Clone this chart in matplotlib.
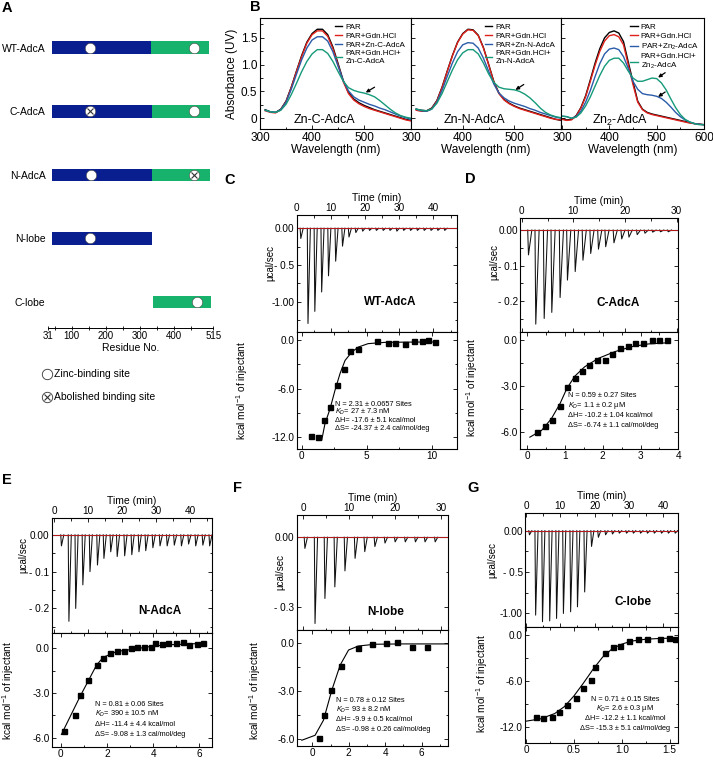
import matplotlib
matplotlib.use("Agg")
import matplotlib.pyplot as plt

plt.rcParams['font.family'] = ['Liberation Sans', 'DejaVu Sans']
plt.rcParams['mathtext.fontset'] = 'custom'
plt.rcParams['mathtext.rm'] = 'Liberation Sans'
plt.rcParams['mathtext.it'] = 'Liberation Sans:italic'
plt.rcParams['axes.linewidth'] = 0.8

W, H = 713, 764

# ---------------- Panel A data ----------------
constructs = ['WT-AdcA', 'C-AdcA', 'N-AdcA', 'N-lobe', 'C-lobe']
nlobe_start = [42, 43, 43, 42, None]
nlobe_end = [332, 334, 334, 334, None]
clobe_start = [332, 334, 334, None, 339]
clobe_end = [501, 504, 504, None, 508]
site_pos = [[153, 459], [152, 459], [155, 459], [153], [467]]
site_ok = [[True, True], [False, True], [True, False], [True], [True]]
residue_ticks = [31, 100, 200, 300, 400, 515]

# ---------------- Panel B data ----------------
wl = [310, 320, 330, 340, 350, 360, 370, 380, 390, 400, 410, 420, 430, 440, 450,
      460, 470, 480, 490, 500, 510, 520, 530, 540, 550, 560, 570, 580, 590]
wl3 = [300] + wl + [600]
c_par = [0.16, 0.12, 0.11, 0.17, 0.32, 0.58, 0.88, 1.17, 1.42, 1.58, 1.66, 1.66, 1.56, 1.33, 1.02,
         0.70, 0.48, 0.36, 0.29, 0.24, 0.20, 0.16, 0.13, 0.10, 0.07, 0.04, 0.01, -0.02, -0.04]
c_gdn = [0.14, 0.11, 0.10, 0.16, 0.31, 0.57, 0.87, 1.15, 1.40, 1.56, 1.63, 1.63, 1.53, 1.30, 0.99,
         0.68, 0.46, 0.34, 0.27, 0.22, 0.18, 0.15, 0.12, 0.09, 0.06, 0.03, 0.00, -0.03, -0.05]
c_zn = [0.15, 0.12, 0.11, 0.16, 0.30, 0.54, 0.82, 1.09, 1.31, 1.46, 1.52, 1.52, 1.44, 1.24, 0.97,
        0.70, 0.51, 0.40, 0.34, 0.30, 0.26, 0.23, 0.19, 0.16, 0.12, 0.08, 0.04, 0.01, -0.02]
c_gdnzn = [0.15, 0.12, 0.11, 0.15, 0.26, 0.44, 0.65, 0.87, 1.06, 1.20, 1.28, 1.28, 1.21, 1.06, 0.87,
           0.69, 0.57, 0.52, 0.49, 0.47, 0.44, 0.40, 0.33, 0.25, 0.17, 0.10, 0.05, 0.02, 0.00]

n_par = [0.17, 0.15, 0.14, 0.19, 0.33, 0.58, 0.88, 1.17, 1.42, 1.58, 1.66, 1.65, 1.55, 1.32, 1.01,
         0.69, 0.47, 0.35, 0.28, 0.23, 0.19, 0.16, 0.13, 0.10, 0.07, 0.04, 0.01, -0.02, -0.04]
n_gdn = [0.15, 0.13, 0.13, 0.18, 0.32, 0.57, 0.87, 1.16, 1.41, 1.57, 1.65, 1.64, 1.54, 1.31, 1.00,
         0.68, 0.46, 0.34, 0.27, 0.22, 0.18, 0.15, 0.12, 0.09, 0.06, 0.03, 0.00, -0.02, -0.03]
n_zn = [0.17, 0.14, 0.13, 0.17, 0.30, 0.52, 0.78, 1.03, 1.24, 1.37, 1.41, 1.40, 1.31, 1.12, 0.88,
        0.64, 0.47, 0.38, 0.32, 0.28, 0.25, 0.22, 0.18, 0.15, 0.11, 0.08, 0.05, 0.02, 0.00]
n_gdnzn = [0.17, 0.15, 0.14, 0.17, 0.28, 0.46, 0.68, 0.90, 1.09, 1.22, 1.28, 1.28, 1.20, 1.03, 0.83,
           0.67, 0.58, 0.55, 0.54, 0.53, 0.50, 0.45, 0.38, 0.29, 0.19, 0.11, 0.06, 0.03, 0.01]

z_par = [-0.01, -0.03, -0.02, 0.05, 0.20, 0.42, 0.72, 1.03, 1.30, 1.50, 1.60, 1.63, 1.59, 1.43, 1.05,
         0.68, 0.32, 0.17, 0.11, 0.08, 0.06, 0.04, 0.02, 0.00, -0.02, -0.04, -0.06, -0.08, -0.10, -0.11, -0.12]
z_gdn = [-0.02, -0.04, -0.03, 0.04, 0.19, 0.40, 0.69, 0.99, 1.25, 1.44, 1.54, 1.56, 1.52, 1.37, 1.00,
         0.63, 0.30, 0.16, 0.10, 0.07, 0.05, 0.03, 0.01, -0.01, -0.03, -0.05, -0.07, -0.09, -0.10, -0.11, -0.12]
z_zn = [0.04, 0.03, 0.00, 0.03, 0.13, 0.30, 0.52, 0.78, 1.02, 1.20, 1.29, 1.31, 1.28, 1.15, 0.93,
        0.69, 0.54, 0.46, 0.44, 0.43, 0.41, 0.37, 0.30, 0.21, 0.11, 0.03, -0.03, -0.07, -0.10, -0.11, -0.12]
z_gdnzn = [0.04, 0.03, 0.00, 0.02, 0.10, 0.23, 0.40, 0.60, 0.80, 0.97, 1.08, 1.12, 1.12, 1.03, 0.88,
           0.75, 0.69, 0.69, 0.72, 0.75, 0.74, 0.66, 0.53, 0.36, 0.20, 0.07, -0.02, -0.07, -0.10, -0.12, -0.12]

# ---------------- ITC data ----------------
C_inj_t = [1.0, 3.1, 5.1, 7.1, 9.1, 11.2, 13.2, 15.1, 17.1, 19.1, 21.1, 23.1, 25.1, 27.1, 29.1,
           31.1, 33.1, 35.1, 37.1, 39.1, 41.1, 43.1]
C_inj_h = [-0.14, -1.30, -1.135, -0.87, -0.65, -0.45, -0.245, -0.12, -0.06, -0.04, -0.03, -0.03,
           -0.03, -0.03, -0.04, -0.03, -0.03, -0.03, -0.03, -0.03, -0.03, -0.03]
C_x = [0.72, 1.28, 1.74, 2.18, 2.69, 3.23, 3.72, 4.3, 5.8, 6.6, 7.2, 7.95, 8.6, 9.2, 9.7, 10.25]
C_y = [-11.9, -12.0, -9.9, -8.3, -5.5, -3.6, -1.3, -1.1, -0.1, -0.3, -0.3, -0.4, -0.1, -0.1, 0.1, -0.2]
C_fx = [1.54, 1.79, 2.18, 2.56, 2.95, 3.33, 3.85, 4.36, 5.1, 6.4, 8.0, 10.4]
C_fy = [-12.4, -10.35, -8.5, -6.2, -4.1, -2.5, -1.45, -0.83, -0.41, -0.25, -0.22, -0.2]

D_inj_t = [1.16, 2.57, 4.2, 5.67, 7.28, 8.7, 10.2, 11.7, 13.2, 14.7, 16.1, 17.7, 19.2, 20.6, 22.2,
           23.7, 25.2, 26.7, 28.2]
D_inj_h = [-0.07, -0.265, -0.249, -0.232, -0.19, -0.141, -0.117, -0.085, -0.066, -0.054, -0.047,
           -0.036, -0.025, -0.02, -0.013, -0.009, -0.006, -0.005, -0.005]
D_x = [0.27, 0.47, 0.66, 0.87, 1.06, 1.26, 1.44, 1.64, 1.85, 2.06, 2.25, 2.46, 2.66, 2.85, 3.07, 3.3, 3.5, 3.69]
D_y = [-6.0, -5.63, -5.19, -4.32, -3.05, -2.46, -2.03, -1.64, -1.33, -1.31, -0.94, -0.55, -0.39, -0.17,
       -0.22, 0.0, 0.0, 0.0]
D_fx = [0.07, 0.38, 0.64, 0.87, 1.05, 1.26, 1.52, 1.88, 2.32, 2.76, 3.2, 3.73]
D_fy = [-6.33, -5.89, -5.13, -4.14, -3.16, -2.36, -1.75, -1.2, -0.76, -0.44, -0.26, -0.18]

E_inj_t = [1.9, 4.1, 6.1, 8.2, 10.3, 12.5, 14.4, 16.4, 18.3, 20.5, 22.6, 24.7, 26.7, 28.8, 30.9, 33.0,
           35.1, 37.2, 39.3, 41.4, 43.5, 45.5]
E_inj_h = [-0.03, -0.235, -0.2, -0.136, -0.10, -0.082, -0.064, -0.046, -0.059, -0.057, -0.054, -0.046,
           -0.043, -0.035, -0.03, -0.03, -0.028, -0.03, -0.025, -0.03, -0.028, -0.03]
E_x = [0.14, 0.61, 0.82, 1.19, 1.55, 1.84, 2.13, 2.42, 2.73, 3.02, 3.31, 3.6, 3.89, 4.08, 4.37, 4.66,
       4.98, 5.28, 5.57, 5.89, 6.18]
E_y = [-5.57, -4.45, -3.1, -2.13, -1.11, -0.66, -0.33, -0.21, -0.17, 0.0, 0.08, 0.12, 0.12, 0.39, 0.28,
       0.35, 0.35, 0.42, 0.24, 0.28, 0.39]
E_fx = [0.02, 0.82, 1.55, 1.84, 2.42, 3.14, 3.86, 4.59, 5.45, 6.2]
E_fy = [-5.78, -3.26, -1.11, -0.6, -0.21, -0.06, 0.12, 0.24, 0.28, 0.35]

F_inj_t = [0.2, 2.4, 4.55, 6.7, 8.9, 11.1, 13.2, 15.4, 17.6, 19.8, 22.0, 24.2, 26.3, 28.5]
F_inj_h = [-0.048, -0.372, -0.264, -0.214, -0.145, -0.091, -0.062, -0.04, -0.025, -0.02, -0.02,
           -0.02, -0.02, -0.02]
F_x = [0.35, 0.66, 1.03, 1.58, 2.53, 3.26, 4.03, 4.67, 5.46, 6.28]
F_y = [-5.93, -4.53, -2.97, -1.46, -0.31, -0.1, -0.04, 0.03, -0.25, -0.25]
F_fx = [-0.58, 0.15, 0.61, 1.07, 1.53, 1.99, 2.53, 3.45, 4.91, 7.47]
F_fy = [-6.1, -5.79, -4.85, -2.97, -1.4, -0.46, -0.21, -0.1, -0.08, -0.08]

G_inj_t = [0.8, 2.6, 4.6, 6.7, 8.7, 10.7, 12.8, 14.8, 16.9, 18.9, 20.9, 23.0, 25.0, 27.0, 29.1, 31.1,
           33.2, 35.2, 37.2, 39.3, 41.3, 43.3]
G_inj_h = [-0.05, -1.02, -1.10, -1.09, -1.06, -1.00, -0.98, -0.92, -0.74, -0.19, -0.08, -0.05, -0.04,
           -0.03, -0.03, -0.03, -0.03, -0.03, -0.03, -0.03, -0.03, -0.03]
G_x = [0.10, 0.18, 0.27, 0.35, 0.43, 0.52, 0.60, 0.68, 0.72, 0.82, 0.91, 0.98, 1.08, 1.17, 1.26, 1.40, 1.49, 1.56]
G_y = [-10.7, -10.9, -10.7, -10.1, -9.2, -8.2, -7.0, -5.9, -4.2, -2.3, -1.6, -1.5, -0.8, -0.56, -0.48,
       -0.48, -0.35, -0.56]
G_fx = [0.0, 0.15, 0.3, 0.4, 0.5, 0.6, 0.7, 0.8, 0.9, 1.0, 1.1, 1.25, 1.4, 1.55]
G_fy = [-11.3, -11.0, -10.3, -9.4, -8.0, -6.3, -4.5, -2.9, -1.8, -1.2, -0.8, -0.55, -0.45, -0.4]

# ---------------- helpers ----------------
fig = plt.figure(figsize=(W / 100, H / 100), dpi=100)


def add_ax(x0, y0, x1, y1):
    return fig.add_axes([x0 / W, 1 - y1 / H, (x1 - x0) / W, (y1 - y0) / H])


def ftext(px, py, s, **kw):
    fig.text(px / W, 1 - py / H, s, **kw)


# ---------------- Panel A ----------------
axA = add_ax(48.3, 30, 213.4, 328)
axA.set_xlim(31, 515)
axA.set_ylim(4.41, -0.28)
for i in range(len(constructs)):
    if nlobe_start[i] is not None:
        axA.barh(i, nlobe_end[i] - nlobe_start[i], left=nlobe_start[i], height=0.2,
                 color='#0a1f8f', edgecolor='none')
    if clobe_start[i] is not None:
        axA.barh(i, clobe_end[i] - clobe_start[i], left=clobe_start[i], height=0.2,
                 color='#17b26c', edgecolor='none')
    for p, ok in zip(site_pos[i], site_ok[i]):
        axA.plot(p, i, 'o', ms=7.5, mfc='white', mec='#444444', mew=0.4)
        if not ok:
            axA.plot(p, i, 'x', ms=4.5, color='#333333', mew=0.8)
axA.set_yticks(range(len(constructs)), constructs)
axA.tick_params(axis='y', length=0, pad=2, labelsize=7.5)
for s in ['left', 'right', 'top']:
    axA.spines[s].set_visible(False)
axA.spines['bottom'].set_linewidth(0.7)
axA.set_xticks(residue_ticks, [str(v) for v in residue_ticks])
axA.set_xticks([50, 150, 250, 350, 450], minor=True)
axA.tick_params(axis='x', which='both', direction='inout', length=3, width=0.6, labelsize=7, pad=1)
axA.set_xlabel('Residue No.', fontsize=7.5, labelpad=1)
# legend for A
for yy, ok, lab in [(-0.155, True, 'Zinc-binding site'), (-0.232, False, 'Abolished binding site')]:
    axA.plot([-0.01], [yy], 'o', transform=axA.transAxes, clip_on=False, ms=7.5,
             mfc='white', mec='#333333', mew=0.6)
    if not ok:
        axA.plot([-0.01], [yy], 'x', transform=axA.transAxes, clip_on=False, ms=4.5,
                 color='#333333', mew=0.8)
    axA.text(0.035, yy, lab, transform=axA.transAxes, fontsize=7.5, va='center')

# ---------------- Panel B ----------------
colors = ['black', '#e0201b', '#2a5caa', '#159a7a']
specs = [
    (260, 411, wl, [c_par, c_gdn, c_zn, c_gdnzn], 'C-AdcA', 'Zn-C-AdcA', (300, 590)),
    (411, 561, wl, [n_par, n_gdn, n_zn, n_gdnzn], 'N-AdcA', 'Zn-N-AdcA', (300, 590)),
    (561, 704, wl3, [z_par, z_gdn, z_zn, z_gdnzn], 'Zn$_2$', 'Zn$_2$-AdcA', (298, 600)),
]
arrows = [
    [((520, 0.58), (503, 0.48))],
    [((518, 0.63), (502, 0.53))],
    [((518, 0.85), (503, 0.76)), ((518, 0.49), (503, 0.40))],
]
for k, (x0, x1, wls, curves, nm, title, xl) in enumerate(specs):
    ax = add_ax(x0, 18, x1, 129)
    if k < 2:
        labs = ['PAR', 'PAR+Gdn.HCl', 'PAR+Zn-%s' % nm, 'PAR+Gdn.HCl+\nZn-%s' % nm]
    else:
        labs = ['PAR', 'PAR+Gdn.HCl', 'PAR+Zn$_2$-AdcA', 'PAR+Gdn.HCl+\nZn$_2$-AdcA']
    for cv, col, lb in zip(curves, colors, labs):
        ax.plot(wls, cv, color=col, lw=1.0, label=lb)
    ax.set_xlim(*xl)
    ax.set_ylim(-0.2, 1.87)
    ax.set_xticks([300, 400, 500] if k < 2 else [300, 400, 500, 600])
    ax.set_xticks([350, 450, 550], minor=True)
    ax.set_yticks([0, 0.5, 1.0, 1.5], ['0', '0.5', '1.0', '1.5'])
    ax.set_yticks([0.25, 0.75, 1.25, 1.75], minor=True)
    ax.tick_params(which='both', direction='in', width=0.6, labelsize=8.5, pad=2)
    ax.tick_params(which='major', length=3)
    ax.tick_params(which='minor', length=1.8)
    if k > 0:
        ax.tick_params(axis='y', labelleft=False)
    ax.set_xlabel('Wavelength (nm)', fontsize=8.5, labelpad=0)
    if k == 0:
        ax.set_ylabel('Absorbance (UV)', fontsize=8.5, labelpad=2)
    ax.text(0.22, 0.05, title, transform=ax.transAxes, fontsize=9)
    ax.legend(loc='upper right', frameon=False, fontsize=5.8, handlelength=0.9,
              handletextpad=0.4, labelspacing=0.15, borderaxespad=0.3)
    for (tail, head) in arrows[k]:
        ax.annotate('', xy=head, xytext=tail,
                    arrowprops=dict(arrowstyle='-|>', color='black', lw=0.9,
                                    mutation_scale=5, shrinkA=0, shrinkB=0))

# ---------------- ITC panels ----------------
itc = [
    dict(box=(296.7, 215, 332.3, 449, 456.7), t=C_inj_t, h=C_inj_h, x=C_x, y=C_y, fx=C_fx, fy=C_fy,
         txl=(0, 46.8), rxl=(-0.38, 11.9), tyl=(-1.42, 0.18), lyl=(-13.5, 1.0),
         tt=[0, 10, 20, 30, 40], ttm=[5, 15, 25, 35, 45],
         ry=[0, -0.5, -1.0], ryl=['0.00', '- 0.5', '-1.00'], rym=[-0.25, -0.75, -1.25],
         lx=[0, 5, 10], lxl=['0', '5', '10'], lxm=[2.5, 7.5],
         ly=[0, -6, -12], lyl2=['0.0', '-6.0', '-12.0'], lym=[-3, -9],
         name='WT-AdcA', nxy=(390, 301.7),
         lines=['N = 2.31 \u00b1 0.0657 Sites', '$K_D$= 27 \u00b1 7.3 nM',
                '\u0394H= -17.6 \u00b1 5.1 kcal/mol', '\u0394S= -24.37 \u00b1 2.4 cal/mol/deg'],
         txy=(335, [404.3, 412.3, 420.7, 429]), ha='left',
         yl1=(270, 263.3), yl2=(241.7, 390), letter='C', lxy=(230, 180), sw=(0.2, 0.9)),
    dict(box=(520, 218.3, 332.3, 449, 678.3), t=D_inj_t, h=D_inj_h, x=D_x, y=D_y, fx=D_fx, fy=D_fy,
         txl=(-0.33, 30.3), rxl=(-0.19, 4.0), tyl=(-0.288, 0.033), lyl=(-7.1, 0.5),
         tt=[0, 10, 20, 30], ttm=[5, 15, 25],
         ry=[0, -0.1, -0.2], ryl=['0.00', '- 0.1', '- 0.2'], rym=[-0.05, -0.15, -0.25],
         lx=[0, 1, 2, 3, 4], lxl=['0', '1', '2', '3', '4'], lxm=[0.5, 1.5, 2.5, 3.5],
         ly=[0, -3, -6], lyl2=['0.0', '-3.0', '-6.0'], lym=[-1.5, -4.5],
         name='C-AdcA', nxy=(618.3, 303.3),
         lines=['N = 0.59 \u00b1 0.27 Sites', '$K_D$= 1.1 \u00b1 0.2 \u00b5M',
                '\u0394H= -10.2 \u00b1 1.04 kcal/mol', '\u0394S= -6.74 \u00b1 1.1 cal/mol/deg'],
         txy=(568.3, [395.3, 405.3, 415.3, 425.3]), ha='left',
         yl1=(494, 262), yl2=(471.7, 387), letter='D', lxy=(470, 179.3), sw=(0.15, 0.8)),
    dict(box=(51.7, 518.3, 632.7, 746.7, 211.7), t=E_inj_t, h=E_inj_h, x=E_x, y=E_y, fx=E_fx, fy=E_fy,
         txl=(-0.76, 46.3), rxl=(-0.4, 6.54), tyl=(-0.266, 0.045), lyl=(-6.6, 1.05),
         tt=[0, 10, 20, 30, 40], ttm=[5, 15, 25, 35, 45],
         ry=[0, -0.1, -0.2], ryl=['0.00', '- 0.1', '- 0.2'], rym=[-0.05, -0.15, -0.25],
         lx=[0, 2, 4, 6], lxl=['0', '2', '4', '6'], lxm=[1, 3, 5],
         ly=[0, -3, -6], lyl2=['0.0', '-3.0', '-6.0'], lym=[-1.5, -4.5],
         name='N-AdcA', nxy=(160, 611),
         lines=['N = 0.81 \u00b1 0.06 Sites', '$K_D$= 390 \u00b1 10.5 nM',
                '\u0394H= -11.4 \u00b1 4.4 kcal/mol', '\u0394S= -9.08 \u00b1 1.3 cal/mol/deg'],
         txy=(95, [704, 714, 724, 734]), ha='left',
         yl1=(23, 555), yl2=(8, 690), letter='E', lxy=(6.7, 480), sw=(0.2, 0.9)),
    dict(box=(296.7, 515, 630, 746, 448.3), t=F_inj_t, h=F_inj_h, x=F_x, y=F_y, fx=F_fx, fy=F_fy,
         txl=(-1.43, 31.5), rxl=(-0.86, 7.47), tyl=(-0.40, 0.096), lyl=(-6.46, 0.79),
         tt=[0, 10, 20, 30], ttm=[5, 15, 25],
         ry=[0, -0.3], ryl=['0.00', '- 0.3'], rym=[-0.15],
         lx=[0, 2, 4, 6], lxl=['0', '2', '4', '6'], lxm=[1, 3, 5, 7],
         ly=[0, -3, -6], lyl2=['0.0', '-3.0', '-6.0'], lym=[-1.5, -4.5],
         name='N-lobe', nxy=(385.7, 612.3),
         lines=['N = 0.78 \u00b1 0.12 Sites', '$K_D$= 93 \u00b1 8.2 nM',
                '\u0394H= -9.9 \u00b1 0.5 kcal/mol', '\u0394S= -0.98 \u00b1 0.26 cal/mol/deg'],
         txy=(336, [700, 710, 719.3, 729.3]), ha='left',
         yl1=(280, 572), yl2=(255, 690), letter='F', lxy=(238, 488), sw=(0.15, 0.7)),
    dict(box=(525, 513.3, 626.7, 743.3, 678.3), t=G_inj_t, h=G_inj_h, x=G_x, y=G_y, fx=G_fx, fy=G_fy,
         txl=(-0.3, 44.4), rxl=(-0.01, 1.59), tyl=(-1.16, 0.21), lyl=(-14.2, 1.09),
         tt=[0, 10, 20, 30, 40], ttm=[5, 15, 25, 35],
         ry=[0, -0.5, -1.0], ryl=['0.00', '- 0.5', '-1.00'], rym=[-0.25, -0.75],
         lx=[0, 0.5, 1.0, 1.5], lxl=['0', '0.5', '1.0', '1.5'], lxm=[0.25, 0.75, 1.25],
         ly=[0, -6, -12], lyl2=['0.0', '-6.0', '-12.0'], lym=[-3, -9],
         name='C-lobe', nxy=(633.3, 601.7),
         lines=['N = 0.71 \u00b1 0.15 Sites', '$K_D$= 2.6 \u00b1 0.3 \u00b5M',
                '\u0394H= -12.2 \u00b1 1.1 kcal/mol', '\u0394S= -15.3 \u00b1 5.1 cal/mol/deg'],
         txy=(625, [699.3, 708.3, 718.3, 728.3]), ha='center',
         yl1=(492.7, 560), yl2=(481.7, 683), letter='G', lxy=(473, 488), sw=(0.2, 0.9)),
]

for P in itc:
    x0, ytop, ymid, ybot, x1 = P['box']
    axr = add_ax(x0, ytop, x1, ymid)
    axl = add_ax(x0, ymid, x1, ybot)
    # raw heat trace
    axr.axhline(0, color='black', lw=0.8)
    wd, wu = P['sw']
    for ti, hi in zip(P['t'], P['h']):
        axr.plot([ti, ti + wd, ti + wu], [0, hi, 0], color='#111111', lw=0.75)
    axr.axhline(0, color='#d42020', lw=0.6)
    axr.set_xlim(*P['txl'])
    axr.set_ylim(*P['tyl'])
    axr.xaxis.tick_top()
    axr.xaxis.set_label_position('top')
    axr.set_xticks(P['tt'], [str(v) for v in P['tt']])
    axr.set_xticks(P['ttm'], minor=True)
    axr.set_yticks(P['ry'], P['ryl'])
    axr.set_yticks(P['rym'], minor=True)
    axr.tick_params(which='both', direction='in', top=True, bottom=True, left=True, right=True,
                    labelbottom=False, labeltop=True, width=0.6, labelsize=7.2, pad=1.5)
    axr.tick_params(which='major', length=3)
    axr.tick_params(which='minor', length=1.8)
    axr.set_xlabel('Time (min)', fontsize=7.5, labelpad=1.5)
    ftext(P['nxy'][0], P['nxy'][1], P['name'], fontsize=8.5, fontweight='bold',
          ha='center', va='center')
    # integrated heats
    axl.plot(P['fx'], P['fy'], color='black', lw=0.8)
    axl.plot(P['x'], P['y'], 's', color='black', ms=3.6)
    axl.set_xlim(*P['rxl'])
    axl.set_ylim(*P['lyl'])
    axl.set_xticks(P['lx'], P['lxl'])
    axl.set_xticks(P['lxm'], minor=True)
    axl.set_yticks(P['ly'], P['lyl2'])
    axl.set_yticks(P['lym'], minor=True)
    axl.tick_params(which='both', direction='in', top=True, bottom=True, left=True, right=True,
                    width=0.6, labelsize=7.2, pad=1.5)
    axl.tick_params(which='major', length=3)
    axl.tick_params(which='minor', length=1.8)
    tx, tys = P['txy']
    for s, ty in zip(P['lines'], tys):
        ftext(tx, ty, s, fontsize=5.3, ha=P['ha'], va='center')
    ftext(P['yl1'][0], P['yl1'][1], '\u00b5cal/sec', rotation=90, fontsize=7.0,
          ha='center', va='center')
    ftext(P['yl2'][0], P['yl2'][1], 'kcal mol$^{-1}$ of injectant', rotation=90,
          fontsize=7.3, ha='center', va='center')
    ftext(P['lxy'][0], P['lxy'][1], P['letter'], fontsize=10.5, fontweight='bold',
          ha='center', va='center')

ftext(6.7, 8.3, 'A', fontsize=10.5, fontweight='bold', ha='center', va='center')
ftext(255, 6.7, 'B', fontsize=10.5, fontweight='bold', ha='center', va='center')

fig.savefig('out.png', dpi=100)
